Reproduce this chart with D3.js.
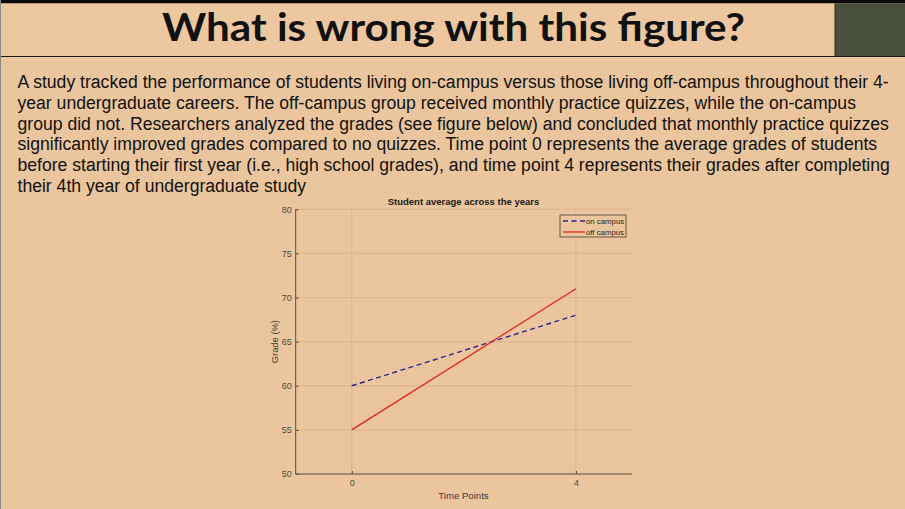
<!DOCTYPE html>
<html><head><meta charset="utf-8">
<script src="https://cdn.jsdelivr.net/npm/d3@7"></script>
<style>html,body{margin:0;padding:0;background:#eac59d;overflow:hidden}</style>
</head><body>
<svg id="c" width="905" height="509"></svg>
<script>
const timePoints = [0, 4];
const onCampus = [60, 68];
const offCampus = [55, 71];
const seriesNames = ["on campus", "off campus"];
const yTicks = [50, 55, 60, 65, 70, 75, 80];
const xTicks = [0, 4];
const slideTitle = "What is wrong with this figure?";
const paragraph = [
  "A study tracked the performance of students living on-campus versus those living off-campus throughout their 4-",
  "year undergraduate careers. The off-campus group received monthly practice quizzes, while the on-campus",
  "group did not. Researchers analyzed the grades (see figure below) and concluded that monthly practice quizzes",
  "significantly improved grades compared to no quizzes. Time point 0 represents the average grades of students",
  "before starting their first year (i.e., high school grades), and time point 4 represents their grades after completing",
  "their 4th year of undergraduate study"
];
const chartTitle = "Student average across the years";
const xLabel = "Time Points";
const yLabel = "Grade (%)";

const svg = d3.select("#c");
const FONT = "'Liberation Sans', Arial, sans-serif";
// slide background
svg.append("rect").attr("x",0).attr("y",0).attr("width",905).attr("height",509).attr("fill","#eac59d");
svg.append("rect").attr("x",0).attr("y",0).attr("width",905).attr("height",3.5).attr("fill","#0a0a0a");
svg.append("rect").attr("x",0).attr("y",3.5).attr("width",835).attr("height",52.5).attr("fill","#ecc7a0");
svg.append("rect").attr("x",835).attr("y",3.5).attr("width",70).attr("height",52.5).attr("fill","#4a5040");
svg.append("line").attr("x1",835).attr("x2",835).attr("y1",3.5).attr("y2",56).attr("stroke","#2a2a20").attr("stroke-width",1);
svg.append("line").attr("x1",0).attr("x2",905).attr("y1",56.5).attr("y2",56.5).attr("stroke","#1a1a1a").attr("stroke-width",1.2);
svg.append("line").attr("x1",0.5).attr("x2",0.5).attr("y1",0).attr("y2",509).attr("stroke","#8a8a8a").attr("stroke-width",1);

svg.append("text").attr("x",453.5).attr("y",41).attr("text-anchor","middle")
  .attr("font-family","Lato, 'Open Sans', sans-serif").attr("font-weight","bold")
  .attr("font-size",39).attr("fill","#111")
  .attr("textLength",583).attr("lengthAdjust","spacingAndGlyphs")
  .text(slideTitle);

const para = svg.append("g").attr("font-family",FONT).attr("font-size",17.6).attr("fill","#111");
paragraph.forEach((l,i)=>{
  para.append("text").attr("x",17.5).attr("y",88.3+i*20.68).text(l);
});

// chart
const L=295.7, R=632, T=209.3, B=474;
const x = d3.scaleLinear().domain([-1,5]).range([L,R]);
const y = d3.scaleLinear().domain([50,80]).range([B,T]);
const g = svg.append("g");
const gridColor = "#d6b28a";
g.selectAll(".hg").data(yTicks.filter(v=>v>50)).enter().append("line")
  .attr("x1",L).attr("x2",R).attr("y1",d=>y(d)).attr("y2",d=>y(d))
  .attr("stroke",gridColor).attr("stroke-width",0.8);
g.selectAll(".vg").data(xTicks).enter().append("line")
  .attr("x1",d=>x(d)).attr("x2",d=>x(d)).attr("y1",T).attr("y2",B)
  .attr("stroke",gridColor).attr("stroke-width",0.8);

const yAxis = d3.axisLeft(y).tickValues(yTicks).tickFormat(d3.format("d")).tickSize(-3).tickPadding(4);
const ya = g.append("g").attr("transform",`translate(${L},0)`).call(yAxis);
const xAxis = d3.axisBottom(x).tickValues(xTicks).tickFormat(d3.format("d")).tickSize(-3).tickPadding(6);
const xa = g.append("g").attr("transform",`translate(0,${B})`).call(xAxis);
[ya,xa].forEach(a=>{
  a.select(".domain").attr("stroke","#5a4a3a").attr("stroke-width",1);
  a.selectAll(".tick line").attr("stroke","#5a4a3a");
  a.selectAll("text").attr("font-family",FONT).attr("font-size",9).attr("fill","#4a4a4a");
});
ya.select(".domain").attr("d",`M0,${B}V${T}`);
xa.select(".domain").attr("d",`M${L},0H${R}`);

const line = d3.line().x((d,i)=>x(timePoints[i])).y(d=>y(d));
g.append("path").datum(onCampus).attr("d",line).attr("fill","none")
  .attr("stroke","#2a2a8a").attr("stroke-width",1.4).attr("stroke-dasharray","5,3.5");
g.append("path").datum(offCampus).attr("d",line).attr("fill","none")
  .attr("stroke","#e0261c").attr("stroke-width",1.3);

g.append("text").attr("x",463.5).attr("y",205).attr("text-anchor","middle")
  .attr("font-family",FONT).attr("font-weight","bold")
  .attr("font-size",9.5).attr("fill","#1a1a1a").text(chartTitle);
g.append("text").attr("x",463.5).attr("y",499).attr("text-anchor","middle")
  .attr("font-family",FONT)
  .attr("font-size",9.6).attr("fill","#3a3a3a").text(xLabel);
g.append("text").attr("transform",`translate(278,${(T+B)/2}) rotate(-90)`).attr("text-anchor","middle")
  .attr("font-family",FONT)
  .attr("font-size",9.4).attr("fill","#3a3a3a").text(yLabel);

// legend
const lg = g.append("g");
lg.append("rect").attr("x",560).attr("y",215).attr("width",66).attr("height",22)
  .attr("fill","#eac59d").attr("stroke","#4a4030").attr("stroke-width",0.8);
const styles = [{c:"#2a2a8a",d:"5,3.5",w:1.4},{c:"#e0261c",d:null,w:1.3}];
seriesNames.forEach((n,i)=>{
  const yy = 221+i*11;
  lg.append("line").attr("x1",563).attr("x2",585).attr("y1",yy).attr("y2",yy)
    .attr("stroke",styles[i].c).attr("stroke-width",styles[i].w).attr("stroke-dasharray",styles[i].d);
  lg.append("text").attr("x",586).attr("y",yy+2.7).attr("font-family",FONT)
    .attr("font-size",7.8).attr("fill","#2a2a2a").text(n);
});
</script>
</body></html>
